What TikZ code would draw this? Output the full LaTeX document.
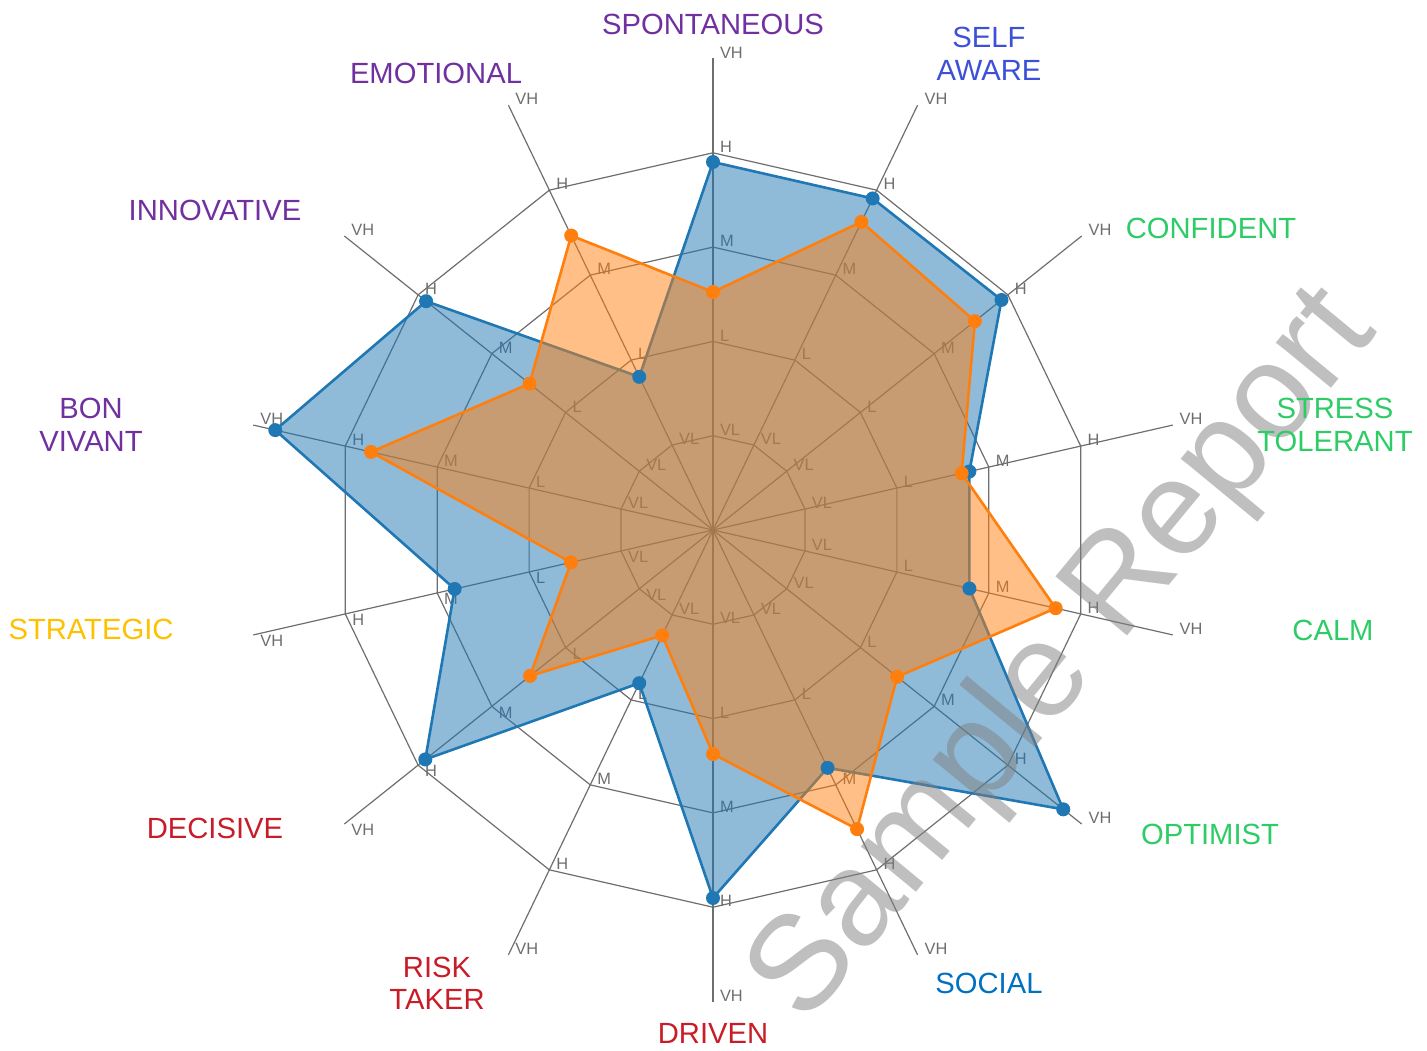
\documentclass[tikz,border=0pt]{standalone}
\usepackage{fontspec}
\setmainfont{Liberation Sans}
\definecolor{gridc}{RGB}{110,110,110}
\definecolor{sblue}{HTML}{1F77B4}
\definecolor{sorange}{HTML}{FF7F0E}
\definecolor{cpurple}{RGB}{112,48,160}
\definecolor{cselfblue}{RGB}{61,80,216}
\definecolor{cgreen}{RGB}{46,204,102}
\definecolor{csocial}{RGB}{0,112,192}
\definecolor{cred}{RGB}{200,28,40}
\definecolor{cyellow}{RGB}{255,192,0}
\definecolor{wmgray}{RGB}{128,128,128}
\begin{document}
\begin{tikzpicture}[x=0.5pt,y=0.5pt,
  gridline/.style={draw=gridc, line width=0.6pt},
  ticklbl/.style={font=\fontsize{8.2}{9}\selectfont, text=gridc, inner sep=0pt},
  catlbl/.style={font=\fontsize{14.6}{16.2}\selectfont, inner sep=0pt, align=center},
  serline/.style={line width=1.3pt, line join=round},
  dotm/.style={circle, inner sep=0pt, minimum size=7pt, draw=none}]
\useasboundingbox (-713,-520) rectangle (714,530);
\clip (-713,-520) rectangle (714,530);
\coordinate (O) at (0,0);
% axes
\foreach \k in {0,...,13}{
  \coordinate (ax\k) at ({90-\k*360/14}:471.6);
  \draw[gridline] (O) -- (ax\k);
}
% rings
\foreach \j in {1,...,4}{
  \draw[gridline] (90:{\j*94.3}) \foreach \i in {1,...,13}{ -- ({90-\i*360/14}:{\j*94.3})} -- cycle;
}
% tick labels
\foreach \k in {0,1,2,3,4,5,6,7,8,11,12,13}{
  \foreach \j/\t in {1/VL,2/L,3/M,4/H,5/VH}{
    \node[ticklbl, anchor=south west, xshift=3.3pt] (t\k-\j) at ({90-\k*360/14}:{\j*94.3}) {\t};
  }
}
\foreach \k in {9,10}{
  \foreach \j/\t in {1/VL,2/L,3/M,4/H,5/VH}{
    \node[ticklbl, anchor=north west, xshift=3.3pt] (t\k-\j) at ({90-\k*360/14}:{\j*94.3}) {\t};
  }
}
% data points
\foreach \r [count=\i from 0] in {368,368,369,263,263,448,264,368,170,368,265,449,367,170}{
  \coordinate (b\i) at ({90-\i*360/14}:\r);
}
\foreach \r [count=\i from 0] in {238,342,335,255,351.5,235.5,332,224,117,234,145.6,350.8,234.7,326.8}{
  \coordinate (o\i) at ({90-\i*360/14}:\r);
}
% blue series
\fill[sblue, fill opacity=0.5] (b0) \foreach \i in {1,...,13}{ -- (b\i)} -- cycle;
\draw[serline, sblue] (b0) \foreach \i in {1,...,13}{ -- (b\i)} -- cycle;
% orange series
\fill[sorange, fill opacity=0.5] (o0) \foreach \i in {1,...,13}{ -- (o\i)} -- cycle;
\draw[serline, sorange] (o0) \foreach \i in {1,...,13}{ -- (o\i)} -- cycle;
% markers
\foreach \i in {0,...,13}{
  \node[dotm, fill=sblue] (bm\i) at (b\i) {};
}
\foreach \i in {0,...,13}{
  \node[dotm, fill=sorange] (om\i) at (o\i) {};
}
% watermark
\node[rotate=50.5, font=\fontsize{67.5}{70}\selectfont, text=wmgray, text opacity=0.5, inner sep=0pt] (wm) at (352,-127) {Sample Report};
% category labels
\node[catlbl, text=cpurple] (c0) at (0,506) {SPONTANEOUS};
\node[catlbl, text=cselfblue] (c1) at (276,476) {SELF\\AWARE};
\node[catlbl, text=cgreen] (c2) at (498,302) {CONFIDENT};
\node[catlbl, text=cgreen] (c3) at (622,105) {STRESS\\TOLERANT};
\node[catlbl, text=cgreen] (c4) at (620,-100) {CALM};
\node[catlbl, text=cgreen] (c5) at (497,-304) {OPTIMIST};
\node[catlbl, text=csocial] (c6) at (276,-453) {SOCIAL};
\node[catlbl, text=cred] (c7) at (0,-503) {DRIVEN};
\node[catlbl, text=cred] (c8) at (-276,-453) {RISK\\TAKER};
\node[catlbl, text=cred] (c9) at (-498,-298) {DECISIVE};
\node[catlbl, text=cyellow] (c10) at (-622,-99) {STRATEGIC};
\node[catlbl, text=cpurple] (c11) at (-622,105) {BON\\VIVANT};
\node[catlbl, text=cpurple] (c12) at (-498,320) {INNOVATIVE};
\node[catlbl, text=cpurple] (c13) at (-277,457) {EMOTIONAL};
\end{tikzpicture}
\end{document}
